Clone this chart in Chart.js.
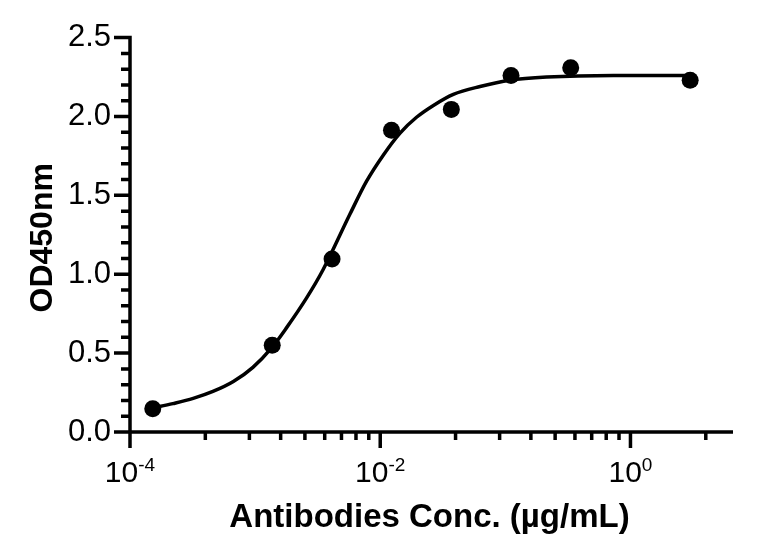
<!DOCTYPE html>
<html>
<head>
<meta charset="utf-8">
<script src="https://cdn.jsdelivr.net/npm/chart.js"></script>
<style>
  html, body { margin: 0; padding: 0; background: #fff; }
  #wrap { width: 760px; height: 555px; }
</style>
</head>
<body>
<div id="wrap"><canvas id="chart" width="760" height="555"></canvas></div>
<script>
// Measured ELISA points (µg/mL vs OD450)
const concentrations = [0.000152, 0.00137, 0.00412, 0.0123, 0.037, 0.111, 0.333, 3.0];
const od450 = [0.147, 0.550, 1.097, 1.912, 2.045, 2.260, 2.309, 2.230];

// Fitted curve
const fitConc = [0.000152, 0.00022, 0.00032, 0.00046, 0.00067, 0.00096, 0.00136, 0.00178,
                 0.00258, 0.0035, 0.00572, 0.00778, 0.01057, 0.0144, 0.0195,
                 0.0266, 0.0384, 0.0628, 0.109, 0.215, 0.733, 3.0];
const fitOD = [0.152, 0.18, 0.213, 0.257, 0.32, 0.41, 0.535, 0.66,
               0.85, 1.03, 1.38, 1.59, 1.755, 1.895, 1.995,
               2.07, 2.14, 2.19, 2.23, 2.25, 2.26, 2.26];

// Axis ticks
const xMajorTicks = [1e-4, 1e-2, 1];
const xTickExponents = ['-4', '-2', '0'];
const xMinorTicks = [4e-4, 9e-4, 16e-4, 25e-4, 36e-4, 49e-4, 64e-4, 81e-4,
                     0.04, 0.09, 0.16, 0.25, 0.36, 0.49, 0.64, 0.81, 4];
const yMajorTicks = [0, 0.5, 1.0, 1.5, 2.0, 2.5];
const yTickLabels = ['0.0', '0.5', '1.0', '1.5', '2.0', '2.5'];
const yMinorTicks = [0.1, 0.2, 0.3, 0.4, 0.6, 0.7, 0.8, 0.9, 1.1, 1.2, 1.3, 1.4,
                     1.6, 1.7, 1.8, 1.9, 2.1, 2.2, 2.3, 2.4];

const FONT = '"Liberation Sans", Arial, Helvetica, sans-serif';

function tickList(majors, minors) {
    const list = majors.map(v => ({ value: v, major: true }))
        .concat(minors.map(v => ({ value: v, major: false })));
    return list.sort((a, b) => a.value - b.value);
}

// Prism-style axes: long major ticks, short minor ticks, 10^n labels
const axesPlugin = {
    id: 'prismAxes',
    afterDraw(chart) {
        const { ctx, chartArea: a, scales: { x, y } } = chart;
        ctx.save();
        ctx.strokeStyle = '#000';
        ctx.lineWidth = 3.5;
        ctx.lineCap = 'butt';
        ctx.beginPath();
        ctx.moveTo(a.left, a.top - 1.75);
        ctx.lineTo(a.left, a.bottom + 1.75);
        ctx.moveTo(a.left - 1.75, a.bottom);
        ctx.lineTo(a.right, a.bottom);
        y.ticks.forEach(t => {
            const py = y.getPixelForValue(t.value);
            ctx.moveTo(a.left, py);
            ctx.lineTo(a.left - (t.major ? 16 : 9), py);
        });
        x.ticks.forEach(t => {
            const px = x.getPixelForValue(t.value);
            ctx.moveTo(px, a.bottom);
            ctx.lineTo(px, a.bottom + (t.major ? 16 : 8));
        });
        ctx.stroke();

        // x tick labels: 10 with a raised exponent
        ctx.fillStyle = '#000';
        ctx.textBaseline = 'alphabetic';
        ctx.textAlign = 'left';
        xMajorTicks.forEach((v, i) => {
            const px = x.getPixelForValue(v);
            ctx.font = '30px ' + FONT;
            const wBase = ctx.measureText('10').width;
            ctx.font = '19px ' + FONT;
            const wExp = ctx.measureText(xTickExponents[i]).width;
            const left = px - (wBase + wExp) / 2;
            ctx.font = '30px ' + FONT;
            ctx.fillText('10', left, a.bottom + 50);
            ctx.font = '19px ' + FONT;
            ctx.fillText(xTickExponents[i], left + wBase, a.bottom + 39);
        });

        // axis titles
        ctx.font = 'bold 33px ' + FONT;
        ctx.textAlign = 'center';
        ctx.fillText('Antibodies Conc. (µg/mL)', (a.left + a.right) / 2 - 2, 527);
        ctx.font = 'bold 32px ' + FONT;
        ctx.translate(52, (a.top + a.bottom) / 2 + 3);
        ctx.rotate(-Math.PI / 2);
        ctx.fillText('OD450nm', 0, 0);
        ctx.restore();
    }
};

new Chart(document.getElementById('chart'), {
    type: 'scatter',
    data: {
        datasets: [{
            label: 'Fit',
            data: fitConc.map((c, i) => ({ x: c, y: fitOD[i] })),
            showLine: true,
            borderColor: '#000',
            borderWidth: 3.5,
            pointRadius: 0,
            pointHoverRadius: 0,
            cubicInterpolationMode: 'monotone',
            fill: false,
            order: 2
        }, {
            label: 'OD450',
            data: concentrations.map((c, i) => ({ x: c, y: od450[i] })),
            showLine: false,
            pointRadius: 8.5,
            pointHoverRadius: 8.5,
            backgroundColor: '#000',
            borderColor: '#000',
            borderWidth: 0,
            order: 1
        }]
    },
    options: {
        responsive: false,
        animation: false,
        devicePixelRatio: 1,
        events: [],
        layout: { padding: { left: 0, top: 31, right: 27, bottom: 0 } },
        plugins: {
            legend: { display: false },
            tooltip: { enabled: false }
        },
        scales: {
            x: {
                type: 'logarithmic',
                min: 1e-4,
                max: 6.6,
                grid: { display: false, drawTicks: false },
                border: { display: false },
                ticks: { display: false },
                afterBuildTicks: scale => { scale.ticks = tickList(xMajorTicks, xMinorTicks); },
                afterFit: scale => { scale.height = 123; }
            },
            y: {
                type: 'linear',
                min: 0,
                max: 2.5,
                grid: { display: false, drawTicks: false },
                border: { display: false },
                ticks: {
                    autoSkip: false,
                    padding: 19,
                    color: '#000',
                    font: { family: FONT, size: 31 },
                    callback: value => {
                        const i = yMajorTicks.findIndex(v => Math.abs(v - value) < 1e-6);
                        return i >= 0 ? yTickLabels[i] : '';
                    }
                },
                afterBuildTicks: scale => { scale.ticks = tickList(yMajorTicks, yMinorTicks); },
                afterFit: scale => { scale.width = 130; }
            }
        }
    },
    plugins: [axesPlugin]
});
</script>
</body>
</html>
